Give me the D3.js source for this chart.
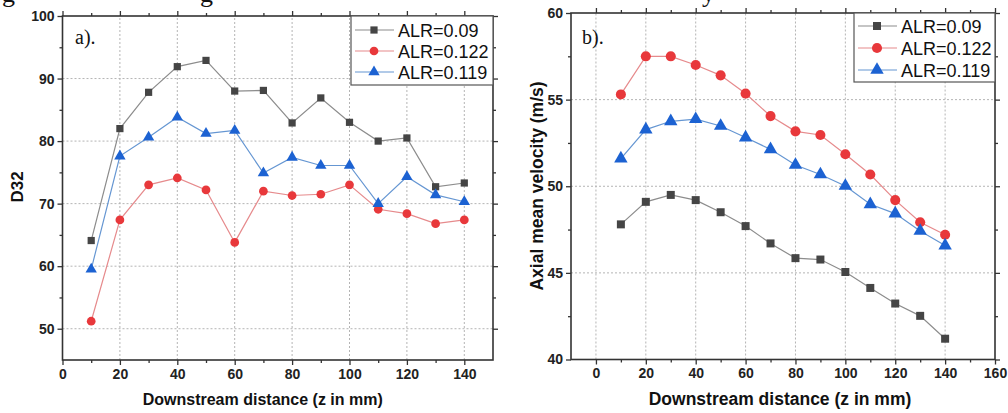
<!DOCTYPE html>
<html>
<head>
<meta charset="utf-8">
<script src="https://cdn.jsdelivr.net/npm/d3@7"></script>
<style>
  html, body { margin: 0; padding: 0; background: #fff; }
  svg { display: block; }
</style>
</head>
<body>
<svg id="chart" width="1008" height="413"></svg>
<script>
// Downstream positions (mm)
const positions = [10, 20, 30, 40, 50, 60, 70, 80, 90, 100, 110, 120, 130, 140];

// Series names
const seriesNames = ["ALR=0.09", "ALR=0.122", "ALR=0.119"];

// Panel a): Sauter mean diameter D32
const d32_alr009  = [64.1, 82.0, 87.8, 91.9, 92.9, 88.0, 88.1, 82.9, 86.9, 83.0, 80.0, 80.5, 72.7, 73.3];
const d32_alr0122 = [51.2, 67.4, 73.0, 74.1, 72.2, 63.8, 72.0, 71.3, 71.5, 73.0, 69.1, 68.4, 66.8, 67.4];
const d32_alr0119 = [59.5, 77.6, 80.6, 83.8, 81.2, 81.7, 74.9, 77.4, 76.1, 76.1, 70.0, 74.3, 71.4, 70.3];

// Panel b): axial mean velocity (m/s)
const vel_alr009  = [47.8, 49.1, 49.5, 49.2, 48.5, 47.7, 46.7, 45.85, 45.77, 45.05, 44.13, 43.23, 42.52, 41.2];
const vel_alr0122 = [55.3, 57.5, 57.5, 57.0, 56.4, 55.35, 54.05, 53.17, 52.96, 51.85, 50.68, 49.2, 47.92, 47.2];
const vel_alr0119 = [51.6, 53.27, 53.75, 53.87, 53.48, 52.81, 52.13, 51.23, 50.68, 50.02, 48.96, 48.42, 47.42, 46.58];

// Tick values
const aXMajor = [0, 20, 40, 60, 80, 100, 120, 140];
const aXMinor = [10, 30, 50, 70, 90, 110, 130];
const aYMajor = [50, 60, 70, 80, 90, 100];
const aYMinor = [55, 65, 75, 85, 95];
const bXMajor = [0, 20, 40, 60, 80, 100, 120, 140, 160];
const bXMinor = [10, 30, 50, 70, 90, 110, 130, 150];
const bYMajor = [40, 45, 50, 55, 60];
const bYMinor = [42.5, 47.5, 52.5, 57.5];

const styles = [
  { marker: "square",   fill: "#454545", line: "#8c8c8c" },
  { marker: "circle",   fill: "#e8383b", line: "#e68a8c" },
  { marker: "triangle", fill: "#1c62d2", line: "#6596d2" }
];

const svg = d3.select("#chart");
const FONT = "'Liberation Sans', Arial, sans-serif";

// Clipped caption glyphs running along the top edge
svg.append("g")
  .attr("font-family", "'Liberation Serif', 'Times New Roman', serif")
  .attr("font-size", 26)
  .attr("fill", "#111")
  .selectAll("text")
  .data([{ t: "g", x: 2 }, { t: "g", x: 200 }, { t: "y", x: 702 }])
  .join("text")
  .attr("x", d => d.x)
  .attr("y", 2)
  .text(d => d.t);

function symbolFor(kind, size) {
  const type = kind === "square" ? d3.symbolSquare
             : kind === "circle" ? d3.symbolCircle
             : d3.symbolTriangle;
  return d3.symbol().type(type).size(size)();
}

function drawPanel(cfg) {
  const x = d3.scaleLinear().domain(cfg.xDomain).range(cfg.xRange);
  const y = d3.scaleLinear().domain(cfg.yDomain).range(cfg.yRange);
  const [x0, x1] = cfg.xRange;
  const [y0, y1] = cfg.yRange;
  const g = svg.append("g");

  // dotted grid
  g.append("g").selectAll("line").data(cfg.xGrid).join("line")
    .attr("x1", d => x(d)).attr("x2", d => x(d))
    .attr("y1", y0).attr("y2", y1)
    .attr("stroke", "#b4b4b4").attr("stroke-width", 1).attr("stroke-dasharray", "2,2");
  g.append("g").selectAll("line").data(cfg.yGrid).join("line")
    .attr("x1", x0).attr("x2", x1)
    .attr("y1", d => y(d)).attr("y2", d => y(d))
    .attr("stroke", "#b4b4b4").attr("stroke-width", 1).attr("stroke-dasharray", "2,2");

  // axes: major ticks labelled, minor ticks shorter
  const axisStyle = sel => {
    sel.select(".domain").remove();
    sel.selectAll(".tick line").attr("stroke", "#333").attr("stroke-width", 1.3);
    sel.selectAll("text").attr("font-family", FONT).attr("font-weight", "bold")
      .attr("font-size", 14).attr("fill", "#222");
  };
  const fmt = d3.format("d");
  g.append("g").attr("transform", `translate(0,${y0})`)
    .call(d3.axisBottom(x).tickValues(cfg.xMajor).tickSize(5).tickPadding(4).tickFormat(fmt))
    .call(axisStyle);
  g.append("g").attr("transform", `translate(0,${y0})`)
    .call(d3.axisBottom(x).tickValues(cfg.xMinor).tickSize(3).tickFormat(""))
    .call(axisStyle);
  g.append("g").attr("transform", `translate(0,${y1})`)
    .call(d3.axisTop(x).tickValues(cfg.xMajor).tickSize(5).tickFormat(""))
    .call(axisStyle);
  g.append("g").attr("transform", `translate(0,${y1})`)
    .call(d3.axisTop(x).tickValues(cfg.xMinor).tickSize(3).tickFormat(""))
    .call(axisStyle);
  g.append("g").attr("transform", `translate(${x0},0)`)
    .call(d3.axisLeft(y).tickValues(cfg.yMajor).tickSize(5).tickPadding(3).tickFormat(fmt))
    .call(axisStyle);
  g.append("g").attr("transform", `translate(${x0},0)`)
    .call(d3.axisLeft(y).tickValues(cfg.yMinor).tickSize(3).tickFormat(""))
    .call(axisStyle);
  g.append("g").attr("transform", `translate(${x1},0)`)
    .call(d3.axisRight(y).tickValues(cfg.yMajor).tickSize(5).tickFormat(""))
    .call(axisStyle);
  g.append("g").attr("transform", `translate(${x1},0)`)
    .call(d3.axisRight(y).tickValues(cfg.yMinor).tickSize(3).tickFormat(""))
    .call(axisStyle);

  // frame
  g.append("rect")
    .attr("x", x0).attr("y", y1).attr("width", x1 - x0).attr("height", y0 - y1)
    .attr("fill", "none").attr("stroke", "#333").attr("stroke-width", 1.6);

  // series
  const line = d3.line().x((d, i) => x(positions[i])).y(d => y(d));
  cfg.series.forEach((vals, si) => {
    const st = styles[si];
    g.append("path").datum(vals).attr("d", line)
      .attr("fill", "none").attr("stroke", st.line).attr("stroke-width", 1.2);
    g.append("g").selectAll("path").data(vals).join("path")
      .attr("transform", (d, i) => `translate(${x(positions[i])},${y(d)})`)
      .attr("d", symbolFor(st.marker, cfg.markerSize[si]))
      .attr("fill", st.fill);
  });

  // legend
  const L = cfg.legend;
  g.append("rect")
    .attr("x", L.x).attr("y", y1).attr("width", x1 - L.x).attr("height", L.h)
    .attr("fill", "#fff").attr("stroke", "#555").attr("stroke-width", 1.2);
  seriesNames.forEach((name, si) => {
    const st = styles[si];
    const ly = y1 + L.rowY[si];
    g.append("line").attr("x1", L.x + 4).attr("x2", L.x + 43)
      .attr("y1", ly).attr("y2", ly).attr("stroke", st.line).attr("stroke-width", 1.2);
    g.append("path").attr("transform", `translate(${L.x + 23},${ly})`)
      .attr("d", symbolFor(st.marker, cfg.markerSize[si])).attr("fill", st.fill);
    g.append("text").attr("x", L.x + 47).attr("y", ly + 6.5)
      .attr("font-family", FONT).attr("font-size", 18).attr("fill", "#111")
      .text(name);
  });

  // panel tag
  g.append("text").attr("x", cfg.tag.x).attr("y", cfg.tag.y)
    .attr("font-family", "'Liberation Serif', 'Times New Roman', serif")
    .attr("font-size", 20).attr("fill", "#111").text(cfg.tag.text);

  // axis titles
  g.append("text")
    .attr("x", (x0 + x1) / 2 + cfg.xTitle.dx).attr("y", 405)
    .attr("text-anchor", "middle")
    .attr("font-family", FONT).attr("font-weight", "bold")
    .attr("font-size", cfg.xTitle.size).attr("fill", "#111")
    .text("Downstream distance (z in mm)");
  g.append("text")
    .attr("transform", `translate(${cfg.yTitle.x},${cfg.yTitle.y}) rotate(-90)`)
    .attr("text-anchor", "middle")
    .attr("font-family", FONT).attr("font-weight", "bold")
    .attr("font-size", cfg.yTitle.size).attr("fill", "#111")
    .text(cfg.yTitle.text);
}

drawPanel({
  xDomain: [0, 150], xRange: [62.5, 493],
  yDomain: [45, 100], yRange: [360, 16],
  xMajor: aXMajor, xMinor: aXMinor, yMajor: aYMajor, yMinor: aYMinor,
  xGrid: [20, 40, 60, 80, 100, 120, 140], yGrid: [50, 60, 70, 80, 90],
  series: [d32_alr009, d32_alr0122, d32_alr0119],
  markerSize: [52, 60, 56],
  legend: { x: 351, h: 69, rowY: [14, 35, 56] },
  tag: { text: "a).", x: 75, y: 44 },
  xTitle: { size: 16, dx: -15 },
  yTitle: { text: "D32", x: 23, y: 187, size: 17 }
});

drawPanel({
  xDomain: [-10, 160], xRange: [571, 995],
  yDomain: [40, 60], yRange: [359.5, 13],
  xMajor: bXMajor, xMinor: bXMinor, yMajor: bYMajor, yMinor: bYMinor,
  xGrid: [0, 20, 40, 60, 80, 100, 120, 140], yGrid: [45, 50, 55],
  series: [vel_alr009, vel_alr0122, vel_alr0119],
  markerSize: [64, 80, 78],
  legend: { x: 854, h: 69, rowY: [13, 35, 57] },
  tag: { text: "b).", x: 582, y: 44 },
  xTitle: { size: 17.5, dx: -3 },
  yTitle: { text: "Axial mean velocity (m/s)", x: 543, y: 186, size: 17.5 }
});
</script>
</body>
</html>
